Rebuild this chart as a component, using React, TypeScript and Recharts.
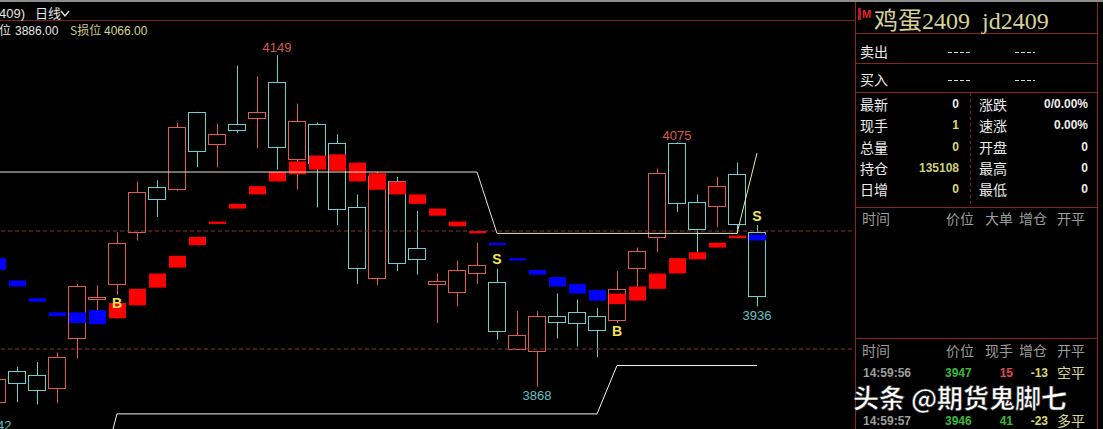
import { ComposedChart, Bar, Line, XAxis, YAxis, ReferenceLine, ReferenceDot, Cell } from 'recharts';

// slot -1 is the half-cut candle at the left edge, 38..42 are empty slots on the right
const slotIndex = [-1, 0, 1, 2, 3, 4, 5, 6, 7, 8, 9, 10, 11, 12, 13, 14, 15, 16, 17, 18, 19, 20, 21, 22, 23, 24, 25, 26, 27, 28, 29, 30, 31, 32, 33, 34, 35, 36, 37, 38, 39, 40, 41, 42];

const openPrice = [3855, 3881, 3878, 3867, 3909, 3942, 3955, 3999, 4037, 4036, 4101, 4074, 4091, 4096, 4126, 4061, 4091, 4075, 4020, 3960, 4042, 3986, 3955, 3948, 3964, 3957, 3900, 3898, 3928, 3931, 3928, 3925, 3969, 3995, 4075, 4025, 4021, 4048, 3999];
const highPrice = [3880, 3885, 3889, 3897, 3955, 3954, 3999, 4042, 4043, 4092, 4101, 4091, 4140, 4131, 4149, 4108, 4092, 4082, 4031, 4050, 4046, 4017, 3964, 3975, 3990, 3968, 3932, 3932, 3947, 3942, 3935, 3966, 3986, 4053, 4075, 4031, 4046, 4058, 4005];
const lowPrice = [3842, 3855, 3853, 3854, 3892, 3933, 3946, 3992, 4012, 4034, 4054, 4054, 4083, 4070, 4052, 4035, 4020, 4005, 3955, 3954, 3966, 3963, 3922, 3936, 3955, 3908, 3900, 3868, 3909, 3902, 3893, 3922, 3953, 3982, 4016, 3982, 4003, 3998, 3936];
const closePrice = [3875, 3871, 3865, 3893, 3953, 3944, 3990, 4033, 4027, 4088, 4068, 4082, 4086, 4101, 4071, 4093, 4058, 4019, 3969, 4047, 3973, 3976, 3958, 3967, 3971, 3915, 3912, 3928, 3923, 3922, 3916, 3951, 3983, 4049, 4024, 4002, 4038, 4006, 3945];

// red / blue trend band
const bandTop = [3977, 3958, 3943, 3931, 3931, 3933, 3939, 3951, 3964, 3979, 3995, 4008, 4023, 4038, 4050, 4059, 4064, 4065, 4058, 4049, 4042, 4031, 4019, 4008, 4000, 3990, 3977, 3967, 3961, 3955, 3950, 3947, 3953, 3964, 3977, 3982, 3990, 3996, 3997];
const bandBottom = [3967, 3953, 3940, 3928, 3922, 3921, 3926, 3937, 3952, 3969, 3988, 4006, 4019, 4031, 4042, 4048, 4052, 4051, 4042, 4035, 4031, 4023, 4013, 4004, 3998, 3988, 3975, 3963, 3953, 3947, 3941, 3938, 3941, 3951, 3964, 3976, 3986, 3994, 3992];
const bandSide = ['b', 'b', 'b', 'b', 'b', 'b', 'r', 'r', 'r', 'r', 'r', 'r', 'r', 'r', 'r', 'r', 'r', 'r', 'r', 'r', 'r', 'r', 'r', 'r', 'r', 'b', 'b', 'b', 'b', 'b', 'b', 'r', 'r', 'r', 'r', 'r', 'r', 'r', 'b'];

// stop lines
const upperStop = [4050, 4050, 4050, 4050, 4050, 4050, 4050, 4050, 4050, 4050, 4050, 4050, 4050, 4050, 4050, 4050, 4050, 4050, 4050, 4050, 4050, 4050, 4050, 4050, 4050, 3998, 3998, 3998, 3998, 3998, 3998, 3998, 3998, 3998, 3998, 3998, 3998, 3998, null, null, null, null, null, null];
const upperTail = [null, null, null, null, null, null, null, null, null, null, null, null, null, null, null, null, null, null, null, null, null, null, null, null, null, null, null, null, null, null, null, null, null, null, null, null, null, 3998, 4066, null, null, null, null, null];
const lowerStop = [null, null, null, null, null, 3781, 3845, 3845, 3845, 3845, 3845, 3845, 3845, 3845, 3845, 3845, 3845, 3845, 3845, 3845, 3845, 3845, 3845, 3845, 3845, 3845, 3845, 3845, 3845, 3845, 3845, 3886, 3886, 3886, 3886, 3886, 3886, 3886, 3886, null, null, null, null, null];

const gridPrices = [4000, 3900];

const signals = [
  { i: 5, text: 'B', price: 3939 },
  { i: 24, text: 'S', price: 3976 },
  { i: 30, text: 'B', price: 3915 },
  { i: 37, text: 'S', price: 4013 },
];

const extremes = [
  { i: -1, price: 3842, side: 'low' },
  { i: 13, price: 4149, side: 'high' },
  { i: 26, price: 3868, side: 'low' },
  { i: 33, price: 4075, side: 'high' },
  { i: 37, price: 3936, side: 'low' },
];

const quoteLeft = [
  { label: '最新', value: '0', color: '#ececec' },
  { label: '现手', value: '1', color: '#dcdc6e' },
  { label: '总量', value: '0', color: '#dcdc6e' },
  { label: '持仓', value: '135108', color: '#cfcf7a' },
  { label: '日增', value: '0', color: '#dcdc6e' },
];
const quoteRight = [
  { label: '涨跌', value: '0/0.00%' },
  { label: '速涨', value: '0.00%' },
  { label: '开盘', value: '0' },
  { label: '最高', value: '0' },
  { label: '最低', value: '0' },
];
// the middle tick row sits under the watermark, only first and last rows show
const ticks = [
  { row: 0, time: '14:59:56', price: '3947', vol: '15', volColor: '#e24848', oi: '-13', kind: '空平' },
  { row: 2, time: '14:59:57', price: '3946', vol: '41', volColor: '#3cb83c', oi: '-23', kind: '多平' },
];

const RED = '#e05a55';
const CYAN = '#6cd0d0';

const rows = slotIndex.map((i, k) => ({
  i,
  open: openPrice[k],
  high: highPrice[k],
  low: lowPrice[k],
  close: closePrice[k],
  bTop: bandTop[k],
  bBot: bandBottom[k],
  side: bandSide[k],
  upper: upperStop[k],
  tail: upperTail[k],
  lower: lowerStop[k],
}));

const Candle = (props: any) => {
  const { x, y, width, height, payload } = props;
  if (!payload || payload.open == null) return null;
  const { open, high, low, close } = payload;
  const top = Math.min(y, y + height);
  const bot = Math.max(y, y + height);
  const toPx = (v: number) => top + ((high - v) / (high - low)) * (bot - top);
  const color = close >= open ? RED : CYAN;
  const cx = Math.floor(x + width / 2) + 0.5;
  const bTop = Math.round(toPx(Math.max(open, close))) + 0.5;
  const bBot = Math.round(toPx(Math.min(open, close))) + 0.5;
  const left = Math.round(x) + 0.5;
  const right = Math.round(x + width) - 0.5;
  return (
    <g>
      <line x1={cx} x2={cx} y1={top} y2={bot} stroke={color} strokeWidth={1} />
      <rect x={left} y={bTop} width={right - left} height={Math.max(bBot - bTop, 1)} fill="#000" stroke={color} strokeWidth={1} />
    </g>
  );
};

const Panel = () => {
  const font = "Arial, 'Liberation Sans', 'Noto Sans CJK SC', sans-serif";
  const cjk = "'Noto Sans CJK SC', sans-serif";
  const border = '#8a2424';
  return (
    <svg width={1103} height={429} style={{ position: 'absolute', left: 0, top: 0 }}>
      {/* chart header */}
      <rect x={0} y={0} width={1103} height={2} fill="#8c8c8c" />
      <line x1={0} x2={855} y1={20.5} y2={20.5} stroke="#7a2222" />
      <text x={-1} y={18} fill="#e6e6e6" fontSize={13} fontFamily={font}>409)</text>
      <text x={35} y={18} fill="#e6e6e6" fontSize={13} fontFamily={cjk}>日线</text>
      <polyline points="61,11 65,16 69,11" fill="none" stroke="#e6e6e6" strokeWidth={1.4} />
      <text x={-1} y={35} fill="#e6e6e6" fontSize={12} fontFamily={cjk}>位</text>
      <text x={15} y={35} fill="#e6e6e6" fontSize={12} fontFamily={font}>3886.00</text>
      <text x={70} y={35} fill="#cccc88" fontSize={12} fontFamily={cjk}>S损位</text>
      <text x={104} y={35} fill="#d6d68a" fontSize={12} fontFamily={font}>4066.00</text>

      {/* right panel */}
      <rect x={855} y={2} width={248} height={427} fill="#000" />
      <line x1={855.5} x2={855.5} y1={2} y2={429} stroke={border} />
      <line x1={1097.5} x2={1097.5} y1={2} y2={429} stroke={border} />
      {[33, 63, 92, 207, 338].map((yy) => (
        <line key={yy} x1={856} x2={1097} y1={yy + 0.5} y2={yy + 0.5} stroke={border} />
      ))}
      <line x1={970.5} x2={970.5} y1={93} y2={207} stroke={border} strokeDasharray="3 3" />
      <rect x={858} y={8} width={3} height={12} fill="#c01818" />
      <text x={862} y={18} fill="#e02828" fontSize={11} fontWeight="bold" fontFamily={font}>M</text>
      <text x={874} y={29} fill="#d6d29a" fontSize={24} fontFamily="'Liberation Serif', 'Noto Sans CJK SC', serif" xmlSpace="preserve">鸡蛋2409  jd2409</text>

      <text x={860} y={57} fill="#ececec" fontSize={14} fontFamily={cjk}>卖出</text>
      <text x={860} y={85} fill="#ececec" fontSize={14} fontFamily={cjk}>买入</text>
      {[52, 80].map((yy) => (
        <g key={yy}>
          <line x1={948} x2={970} y1={yy + 0.5} y2={yy + 0.5} stroke="#d8d8d8" strokeDasharray="4 2" />
          <line x1={1015} x2={1035} y1={yy + 0.5} y2={yy + 0.5} stroke="#d8d8d8" strokeDasharray="4 2" />
        </g>
      ))}

      {quoteLeft.map((q, k) => (
        <g key={q.label}>
          <text x={860} y={110 + k * 21.3} fill="#ececec" fontSize={14} fontFamily={cjk}>{q.label}</text>
          <text x={959} y={108 + k * 21.3} fill={q.color} fontSize={12} fontWeight="bold" fontFamily={font} textAnchor="end">{q.value}</text>
        </g>
      ))}
      {quoteRight.map((q, k) => (
        <g key={q.label}>
          <text x={979} y={110 + k * 21.3} fill="#ececec" fontSize={14} fontFamily={cjk}>{q.label}</text>
          <text x={1088} y={108 + k * 21.3} fill="#ececec" fontSize={12} fontWeight="bold" fontFamily={font} textAnchor="end">{q.value}</text>
        </g>
      ))}

      {[
        { y: 224, cols: ['时间', '价位', '大单', '增仓', '开平'] },
        { y: 356, cols: ['时间', '价位', '现手', '增仓', '开平'] },
      ].map((h) => (
        <g key={h.y}>
          {h.cols.map((c, k) => (
            <text key={k} x={[862, 946, 985, 1019, 1057][k]} y={h.y} fill="#9c9c9c" fontSize={14} fontFamily={cjk}>{c}</text>
          ))}
        </g>
      ))}

      {ticks.map((t) => (
        <g key={t.row}>
          <text x={863} y={377 + t.row * 24} fill="#9e9e9e" fontSize={12} fontWeight="bold" fontFamily={font}>{t.time}</text>
          <text x={945} y={377 + t.row * 24} fill="#3cb83c" fontSize={12} fontWeight="bold" fontFamily={font}>{t.price}</text>
          <text x={1013} y={377 + t.row * 24} fill={t.volColor} fontSize={12} fontWeight="bold" fontFamily={font} textAnchor="end">{t.vol}</text>
          <text x={1048} y={377 + t.row * 24} fill="#d8d86e" fontSize={12} fontWeight="bold" fontFamily={font} textAnchor="end">{t.oi}</text>
          <text x={1057} y={378 + t.row * 24} fill="#d8d890" fontSize={14} fontFamily={cjk}>{t.kind}</text>
        </g>
      ))}

      <text x={853} y={408} fill="#ffffff" stroke="#1a1a1a" strokeWidth={0.6} fontSize={26} fontWeight="bold" fontFamily={cjk} xmlSpace="preserve">头条 @期货鬼脚七</text>
    </svg>
  );
};

export default function App() {
  return (
    <div style={{ position: 'fixed', left: 0, top: 0, width: 1103, height: 429, background: '#000', overflow: 'hidden' }}>
      <div style={{ position: 'absolute', left: -13, top: 0 }}>
        <ComposedChart width={880} height={429} data={rows} margin={{ top: 0, right: 0, bottom: 0, left: 0 }} barCategoryGap={0} barGap={0}>
          <XAxis dataKey="i" type="category" hide />
          <XAxis xAxisId="b" dataKey="i" type="category" hide />
          <YAxis type="number" domain={[3832.2, 4195.8]} allowDataOverflow hide />
          {gridPrices.map((p) => (
            <ReferenceLine key={p} y={p} stroke="#8a3434" strokeDasharray="4 3" />
          ))}
          <Bar dataKey={(d: any) => (d.high == null ? null : [d.low, d.high])} barSize={18} shape={Candle} isAnimationActive={false} />
          <Bar xAxisId="b" dataKey={(d: any) => (d.bTop == null ? null : [d.bBot, d.bTop])} barSize={17} isAnimationActive={false}>
            {rows.map((r) => (
              <Cell key={r.i} fill={r.side === 'r' ? '#ff0000' : '#0000ff'} />
            ))}
          </Bar>
          <Line dataKey="upper" type="linear" stroke="#ece6c8" strokeWidth={1} dot={false} isAnimationActive={false} />
          <Line dataKey="tail" type="linear" stroke="#dfeea0" strokeWidth={1} dot={false} isAnimationActive={false} />
          <Line dataKey="lower" type="linear" stroke="#f4f4f4" strokeWidth={1} dot={false} isAnimationActive={false} />
          {signals.map((s) => (
            <ReferenceDot
              key={s.i}
              x={s.i}
              y={s.price}
              r={0}
              shape={(p: any) => (
                <text x={p.cx} y={p.cy + 5} textAnchor="middle" fill="#f4e45a" fontSize={14} fontWeight="bold" fontFamily="Arial, 'Liberation Sans', sans-serif">{s.text}</text>
              )}
            />
          ))}
          {extremes.map((m) => (
            <ReferenceDot
              key={m.i}
              x={m.i}
              y={m.price}
              r={0}
              shape={(p: any) => (
                <text x={p.cx} y={m.side === 'high' ? p.cy - 3 : p.cy + 13} textAnchor="middle" fill={m.side === 'high' ? '#d85a55' : '#5fc4c4'} fontSize={13} fontFamily="Arial, 'Liberation Sans', sans-serif">{m.price}</text>
              )}
            />
          ))}
        </ComposedChart>
      </div>
      <Panel />
    </div>
  );
}
